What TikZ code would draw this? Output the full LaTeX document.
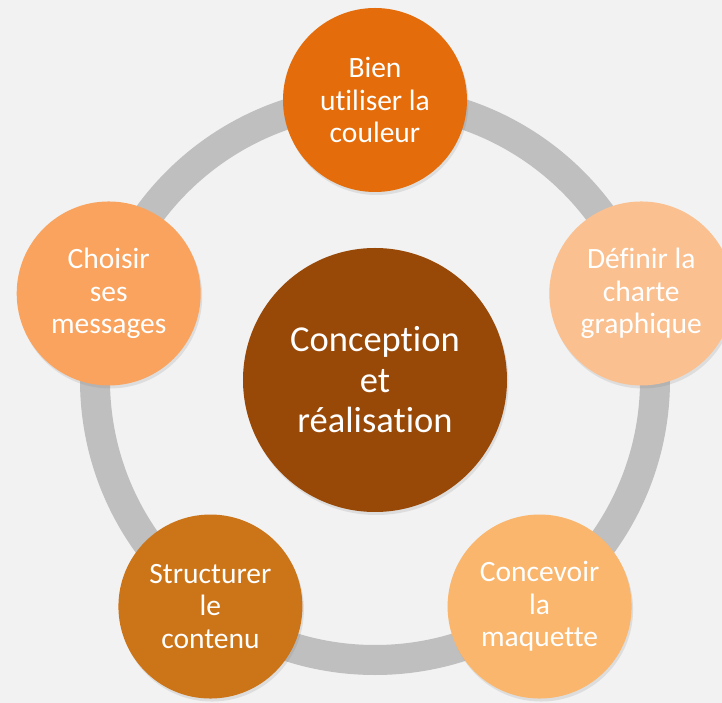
\documentclass[tikz,border=0pt]{standalone}
\usepackage{fontspec}
\setmainfont{Carlito}[Ligatures=NoCommon]
\usetikzlibrary{shadows}

\definecolor{fond}{HTML}{F2F2F2}
\definecolor{anneau}{HTML}{BFBFBF}
\definecolor{brun}{HTML}{984807}
\definecolor{orangeA}{HTML}{E46C0A}
\definecolor{orangeB}{HTML}{FAC090}
\definecolor{orangeC}{HTML}{F9B66C}
\definecolor{orangeD}{HTML}{CC7418}
\definecolor{orangeE}{HTML}{F9A35E}

\tikzset{
  ombre/.style={drop shadow={opacity=0.18,shadow xshift=1.5pt,shadow yshift=-3pt}},
  etape/.style={circle,minimum size=184pt,inner sep=0pt,align=center,text=white,
    font=\fontsize{29.5}{32.5}\selectfont,ombre},
  centre/.style={circle,minimum size=264pt,inner sep=0pt,align=center,text=white,
    fill=brun,font=\fontsize{36.5}{40.5}\selectfont,ombre}
}

\providecommand{\Etape}[4]{
\node[etape,fill=#2] (#1) at (#3) {#4};
}

\begin{document}
\begin{tikzpicture}[x=1pt,y=1pt]
\fill[fond] (-375,-323) rectangle (347,380);
\useasboundingbox (-375,-323) rectangle (347,380);
\draw[anneau,line width=30pt] (0,0) circle (280);
\node[centre] (conception) at (0,0) {Conception\\et\\réalisation};
\Etape{couleur}{orangeA}{90:280}{Bien\\utiliser la\\couleur}
\Etape{charte}{orangeB}{18:280}{Définir la\\charte\\graphique}
\Etape{maquette}{orangeC}{-54:280}{Concevoir\\la\\maquette}
\Etape{contenu}{orangeD}{-126:280}{Structurer\\le\\contenu}
\Etape{messages}{orangeE}{162:280}{Choisir\\ses\\messages}
\end{tikzpicture}
\end{document}
